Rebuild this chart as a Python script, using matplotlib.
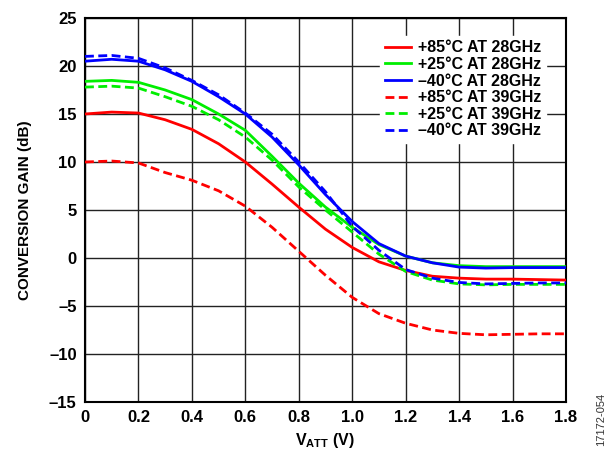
import matplotlib
matplotlib.use("Agg")
import matplotlib.pyplot as plt

plt.rcParams["font.family"] = ["Liberation Sans", "DejaVu Sans"]
plt.rcParams["mathtext.fontset"] = "custom"
plt.rcParams["mathtext.rm"] = "Liberation Sans:bold"
plt.rcParams["mathtext.bf"] = "Liberation Sans:bold"

# V_ATT sweep (V)
v_att = [0.0, 0.1, 0.2, 0.3, 0.4, 0.5, 0.6, 0.7, 0.8, 0.9,
         1.0, 1.1, 1.2, 1.3, 1.4, 1.5, 1.6, 1.7, 1.8]

# conversion gain (dB)
gain_85c_28g = [15.0, 15.2, 15.1, 14.4, 13.4, 11.9, 10.0, 7.7, 5.3, 3.0,
                1.1, -0.4, -1.3, -1.9, -2.1, -2.2, -2.2, -2.25, -2.3]
gain_25c_28g = [18.4, 18.5, 18.3, 17.5, 16.5, 15.0, 13.3, 10.6, 7.8, 5.3,
                3.2, 1.4, 0.2, -0.5, -0.8, -0.9, -0.9, -0.9, -0.9]
gain_m40c_28g = [20.5, 20.7, 20.5, 19.6, 18.4, 16.8, 15.0, 12.6, 9.7, 6.6,
                 3.8, 1.5, 0.2, -0.5, -0.95, -1.05, -1.0, -1.0, -1.0]
gain_85c_39g = [10.0, 10.1, 9.9, 8.9, 8.1, 7.0, 5.4, 3.2, 0.7, -1.8,
                -4.1, -5.8, -6.8, -7.5, -7.85, -8.0, -7.95, -7.9, -7.9]
gain_25c_39g = [17.8, 17.9, 17.7, 16.8, 15.8, 14.4, 12.6, 10.2, 7.4, 5.0,
                2.7, 0.4, -1.4, -2.3, -2.7, -2.8, -2.75, -2.75, -2.75]
gain_m40c_39g = [21.0, 21.1, 20.8, 19.8, 18.5, 17.0, 15.1, 12.9, 10.0, 6.9,
                 3.3, 0.8, -1.2, -2.1, -2.55, -2.7, -2.65, -2.6, -2.6]

series_labels = ["+85°C AT 28GHz", "+25°C AT 28GHz", "–40°C AT 28GHz",
                 "+85°C AT 39GHz", "+25°C AT 39GHz", "–40°C AT 39GHz"]

x_ticks = [0, 0.2, 0.4, 0.6, 0.8, 1.0, 1.2, 1.4, 1.6, 1.8]
x_tick_labels = ["0", "0.2", "0.4", "0.6", "0.8", "1.0", "1.2", "1.4", "1.6", "1.8"]
y_ticks = [-15, -10, -5, 0, 5, 10, 15, 20, 25]
y_tick_labels = ["–15", "–10", "–5", "0", "5", "10", "15", "20", "25"]

RED, GREEN, BLUE = "#ff0000", "#00ee00", "#0000ff"

fig = plt.figure(figsize=(6.14, 4.5), dpi=100)
ax = fig.add_axes([0.1384, 0.1067, 0.7834, 0.8533])

series = [gain_85c_28g, gain_25c_28g, gain_m40c_28g,
          gain_85c_39g, gain_25c_39g, gain_m40c_39g]
colors = [RED, GREEN, BLUE, RED, GREEN, BLUE]
for i, (g, c, lab) in enumerate(zip(series, colors, series_labels)):
    if i < 3:
        ax.plot(v_att, g, color=c, lw=2.0, label=lab, zorder=3)
    else:
        ax.plot(v_att, g, color=c, lw=2.0, ls=(0, (3.2, 1.6)), label=lab, zorder=3)

ax.set_xlim(0, 1.8)
ax.set_ylim(-15, 25)
ax.set_xticks(x_ticks)
ax.set_xticklabels(x_tick_labels)
ax.set_yticks(y_ticks)
ax.set_yticklabels(y_tick_labels)
ax.tick_params(length=0, pad=6, labelsize=12)
for t in ax.get_xticklabels() + ax.get_yticklabels():
    t.set_fontweight("bold")
ax.grid(True, color="#222222", lw=1.0, zorder=1)
for s in ax.spines.values():
    s.set_linewidth(1.5)
    s.set_color("black")

ax.set_ylabel("CONVERSION GAIN (dB)", fontsize=11, fontweight="bold", labelpad=12)
ax.set_xlabel(r"V$_{\mathrm{ATT}}$ (V)", fontsize=11.5, fontweight="bold", labelpad=4)

leg = ax.legend(loc="upper right", bbox_to_anchor=(0.975, 0.975), frameon=True,
                fancybox=False, edgecolor="white", facecolor="white", framealpha=1,
                fontsize=11.5, handlelength=1.6, handletextpad=0.45,
                labelspacing=0.1, borderpad=0.3)
for t in leg.get_texts():
    t.set_fontweight("bold")
leg.set_zorder(4)

fig.text(0.979, 0.008, "17172-054", rotation=90, fontsize=8, color="#333333",
         ha="center", va="bottom")

fig.savefig("out.png", dpi=100, facecolor="white")
